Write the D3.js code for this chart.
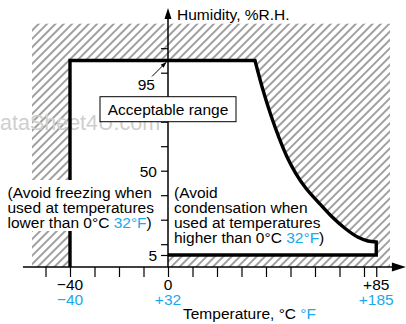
<!DOCTYPE html>
<html><head><meta charset="utf-8">
<script src="https://cdn.jsdelivr.net/npm/d3@7"></script>
<style>
html,body{margin:0;padding:0;background:#fff;}
svg{display:block;font-family:"Liberation Sans",Arial,Helvetica,sans-serif;}
</style></head>
<body><svg id="c" width="406" height="324"></svg>
<script>
// ---- data ----
const tempTicks = [-50,-40,-30,-20,-10,0,10,20,30,40,50,60,70,80,85];
const tempLabelVals = [-40, 0, 85];
const tempLabelsC = ["\u221240", "0", "+85"];
const tempLabelsF = ["\u221240", "+32", "+185"];
const humidTicks = [5,20,30,40,50,60,70,80,90,100];
const humidLabelVals = [5, 50];
const humidTopLabel = 95;
// acceptable range boundary
const rangeTMin = -40, rangeTCorner = 35.5, rangeTMax = 85;
const rangeHTop = 95, rangeHBottom = 5;
// condensation curve (temperature °C, humidity %RH)
const curveT = [35.5, 38.8, 42.0, 45.3, 48.6, 52.2, 56.3, 61.2, 66.5, 72.2, 77.6, 81.6, 85];
const curveH = [95, 82.8, 72.6, 63.5, 55.6, 48.8, 42.8, 37.3, 31.6, 26.5, 22.8, 21.3, 20.9];
// hatched zone extent
const hatchT = [-55.5, 90.6];
const hatchHTop = 110;
const axisT = [-59.2, 97.1];
const axisHTop = 115.6;
const leftNote = ["(Avoid freezing when", "used at temperatures", "lower than 0\u00b0C "];
const rightNote = ["(Avoid", "condensation when", "used at temperatures", "higher than 0\u00b0C "];
const CYAN = "#1ba8ec";

// ---- scales ----
const x = d3.scaleLinear().domain([0, 85]).range([168, 376.25]);
const y = d3.scaleLinear().domain([0, 5, 20, 100]).range([267, 255, 244.2, 48.2]);

const svg = d3.select("#c");
const defs = svg.append("defs");
const pat = defs.append("pattern").attr("id","hatch").attr("patternUnits","userSpaceOnUse")
  .attr("width",5.9).attr("height",5.9).attr("patternTransform","rotate(45)");
pat.append("line").attr("x1",2.95).attr("x2",2.95).attr("y1",-1).attr("y2",7)
  .attr("stroke","#222").attr("stroke-width",0.85);
defs.append("marker").attr("id","arr").attr("viewBox","0 0 10 10").attr("refX",9).attr("refY",5)
  .attr("markerWidth",6).attr("markerHeight",6).attr("orient","auto")
  .append("path").attr("d","M0,1.5L10,5L0,8.5Z").attr("fill","#000");

// hatched area
svg.append("rect").attr("x", x(hatchT[0])).attr("y", y(hatchHTop))
  .attr("width", x(hatchT[1]) - x(hatchT[0])).attr("height", y(0) - y(hatchHTop))
  .attr("fill","url(#hatch)");

// acceptable region path
const lin = d3.line().x(d=>x(d[0])).y(d=>y(d[1]));
const crv = d3.line().x(d=>x(d[0])).y(d=>y(d[1])).curve(d3.curveMonotoneX);
const startPts = [[rangeTMin,0],[rangeTMin,rangeHTop],[rangeTCorner,rangeHTop]];
const curvePts = curveT.map((t,i)=>[t, curveH[i]]);
const endPts = [[rangeTMax, curveH[curveH.length-1]],[rangeTMax,rangeHBottom],[0,rangeHBottom]];
const dPath = lin(startPts) + crv(curvePts).replace(/^M/,"L") + lin(endPts).replace(/^M/,"L");
svg.append("path").attr("d", dPath + "L" + x(0) + "," + y(0) + "Z").attr("fill","#fff");

// watermark
svg.append("text").attr("x",0).attr("y",130).attr("font-size",21.5).attr("fill","#cfcfcf")
  .text("ataSheet4U.com");

// axes ticks
const xa = svg.append("g").attr("transform",`translate(0,${y(0)})`)
  .call(d3.axisBottom(x).tickValues(tempTicks).tickSize(10).tickFormat(""));
xa.select(".domain").remove();
xa.selectAll("line").attr("stroke","#000").attr("stroke-width",1.2);
const ya = svg.append("g").attr("transform",`translate(${x(0)},0)`)
  .call(d3.axisLeft(y).tickValues(humidTicks).tickSize(7).tickFormat(""));
ya.select(".domain").remove();
ya.selectAll("line").attr("stroke","#000").attr("stroke-width",1.2);

// axis lines with arrows
svg.append("line").attr("x1",x(axisT[0])).attr("x2",x(axisT[1])-10).attr("y1",y(0)).attr("y2",y(0))
  .attr("stroke","#000").attr("stroke-width",1.5);
svg.append("path").attr("d",`M${x(axisT[1])},${y(0)}l-14,-4.5l0,9Z`).attr("fill","#000");
svg.append("line").attr("x1",x(0)).attr("x2",x(0)).attr("y1",y(0)).attr("y2",y(axisHTop)+8)
  .attr("stroke","#000").attr("stroke-width",1.5);
svg.append("path").attr("d",`M${x(0)},${y(axisHTop)-2}l-3.5,11l7,0Z`).attr("fill","#000");

// thick boundary
svg.append("path").attr("d", dPath).attr("fill","none").attr("stroke","#000")
  .attr("stroke-width",3.4).attr("stroke-linejoin","miter");

// y labels
svg.selectAll(".yl").data(humidLabelVals).join("text").attr("class","yl")
  .attr("x", x(0)-11).attr("y", d=>y(d)+6).attr("text-anchor","end").attr("font-size",15.5).text(d=>d);
svg.append("text").attr("x", x(0)-13).attr("y", y(humidTopLabel)+29.5).attr("text-anchor","end")
  .attr("font-size",15.5).text(humidTopLabel);
svg.append("line").attr("x1",x(0)-16).attr("y1",y(humidTopLabel)+16)
  .attr("x2",x(0)-2).attr("y2",y(humidTopLabel)+2).attr("stroke","#000").attr("stroke-width",1)
  .attr("marker-end","url(#arr)");

// x labels
svg.selectAll(".xc").data(tempLabelVals).join("text").attr("class","xc")
  .attr("x", d=>x(d)).attr("y", 289.5).attr("text-anchor","middle").attr("font-size",15.5)
  .text((d,i)=>tempLabelsC[i]);
svg.selectAll(".xf").data(tempLabelVals).join("text").attr("class","xf")
  .attr("x", d=>x(d)).attr("y", 304.5).attr("text-anchor","middle").attr("font-size",15.5)
  .attr("fill",CYAN).text((d,i)=>tempLabelsF[i]);

// axis titles
svg.append("text").attr("x",177).attr("y",19.5).attr("font-size",15.5).text("Humidity, %R.H.");
const tt = svg.append("text").attr("x",183).attr("y",318.5).attr("font-size",15.5);
tt.append("tspan").text("Temperature, \u00b0C ");
tt.append("tspan").attr("fill",CYAN).text("\u00b0F");

// Acceptable range box
svg.append("rect").attr("x", x(0)-68).attr("y", 96.7).attr("width",136).attr("height",25)
  .attr("fill","#fff").attr("stroke","#000").attr("stroke-width",1);
svg.append("text").attr("x", x(0)).attr("y",115).attr("text-anchor","middle").attr("font-size",15.5)
  .text("Acceptable range");

// notes
svg.append("rect").attr("x",5).attr("y",180).attr("width",153).attr("height",51).attr("fill","#fff");
function note(lines, x0, y0){
  const t = svg.append("text").attr("font-size",15.5);
  lines.forEach((s,i)=>{
    t.append("tspan").attr("x",x0).attr("y",y0+i*15.3).text(s);
    if(i===lines.length-1){
      t.append("tspan").attr("fill",CYAN).text("32\u00b0F");
      t.append("tspan").text(")");
    }
  });
}
note(leftNote, 7.5, 197.5);
note(rightNote, 174, 197.5);
</script></body></html>
